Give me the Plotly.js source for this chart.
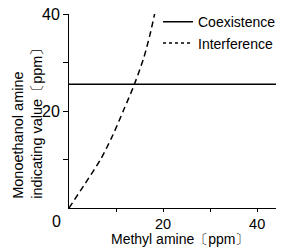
<!DOCTYPE html>
<html><head><meta charset="utf-8">
<script src="https://cdn.plot.ly/plotly-3.0.1.min.js"></script>
<style>body{margin:0;padding:0;background:#fff}#chart{width:287px;height:247px}</style>
</head><body><div id="chart"></div>
<script>
// Data
const coexX = [0, 44];
const coexY = [25.5, 25.5];
const interfX = [0, 3.4, 6.7, 9.3, 11.7, 13.9, 15.9, 17.2, 18.2];
const interfY = [0, 5, 10, 15, 20.4, 25.5, 31, 35.7, 40];
const xTickVals = [10, 20, 30, 40];
const xTickText = ['', '20', '', '40'];
const yTickVals = [10, 20, 30, 40];
const yTickText = ['', '20', '', '40'];
const originLabel = '0';
const xTitle = 'Methyl amine〔ppm〕';
const yTitle = 'Monoethanol amine<br>indicating value〔ppm〕';

const fam = 'Liberation Sans, Arial, sans-serif';
const tickFont = {family: fam, size: 16, color: '#000'};
const xTickFont = {family: fam, size: 14.5, color: '#000'};
const titleFont = {family: fam, size: 14.5, color: '#000'};
const xTitleFont = {family: fam, size: 14, color: '#000'};
const traces = [
  {x: coexX, y: coexY, mode: 'lines', name: 'Coexistence', line: {color: '#000', width: 1.5}, cliponaxis: false},
  {x: interfX, y: interfY, mode: 'lines', name: 'Interference', showlegend: false,
   line: {color: '#000', width: 1.5, dash: '6px,4px', shape: 'spline', smoothing: 0.8}},
  {x: [null], y: [null], mode: 'lines', name: 'Interference', line: {color: '#000', width: 1.5, dash: 'dot'}}
];
const layout = {
  width: 287, height: 247,
  margin: {l: 69, r: 6, t: 14, b: 39},
  paper_bgcolor: '#fff', plot_bgcolor: '#fff',
  font: tickFont,
  showlegend: true,
  legend: {x: 0.43, y: 1.04, xanchor: 'left', yanchor: 'top', bgcolor: 'rgba(0,0,0,0)',
           font: {family: fam, size: 14, color: '#000'}, itemwidth: 30, tracegroupgap: 0},
  xaxis: {range: [0, 44], showgrid: false, zeroline: false, showline: true, linecolor: '#000', linewidth: 1,
          ticks: 'outside', ticklen: 3, tickcolor: '#000', tickvals: xTickVals, ticktext: xTickText, tickfont: xTickFont},
  yaxis: {range: [0, 40], showgrid: false, zeroline: false, showline: true, linecolor: '#000', linewidth: 1,
          ticks: 'outside', ticklen: 5, tickcolor: '#000', tickvals: yTickVals, ticktext: yTickText, tickfont: tickFont},
  annotations: [
    {text: originLabel, xref: 'paper', yref: 'paper', x: -0.06, y: -0.07, xanchor: 'center', yanchor: 'middle',
     showarrow: false, font: {family: fam, size: 16, color: '#000'}, borderpad: 0},
    {text: xTitle, xref: 'paper', yref: 'paper', x: 0.54, y: -0.207, xanchor: 'center', yanchor: 'bottom',
     showarrow: false, font: xTitleFont, borderpad: 0},
    {text: yTitle, xref: 'paper', yref: 'paper', x: -0.2, y: 0.035, xanchor: 'center', yanchor: 'bottom',
     textangle: -90, align: 'left', showarrow: false, font: titleFont}
  ]
};
Plotly.newPlot('chart', traces, layout, {displayModeBar: false, staticPlot: true});
</script></body></html>
